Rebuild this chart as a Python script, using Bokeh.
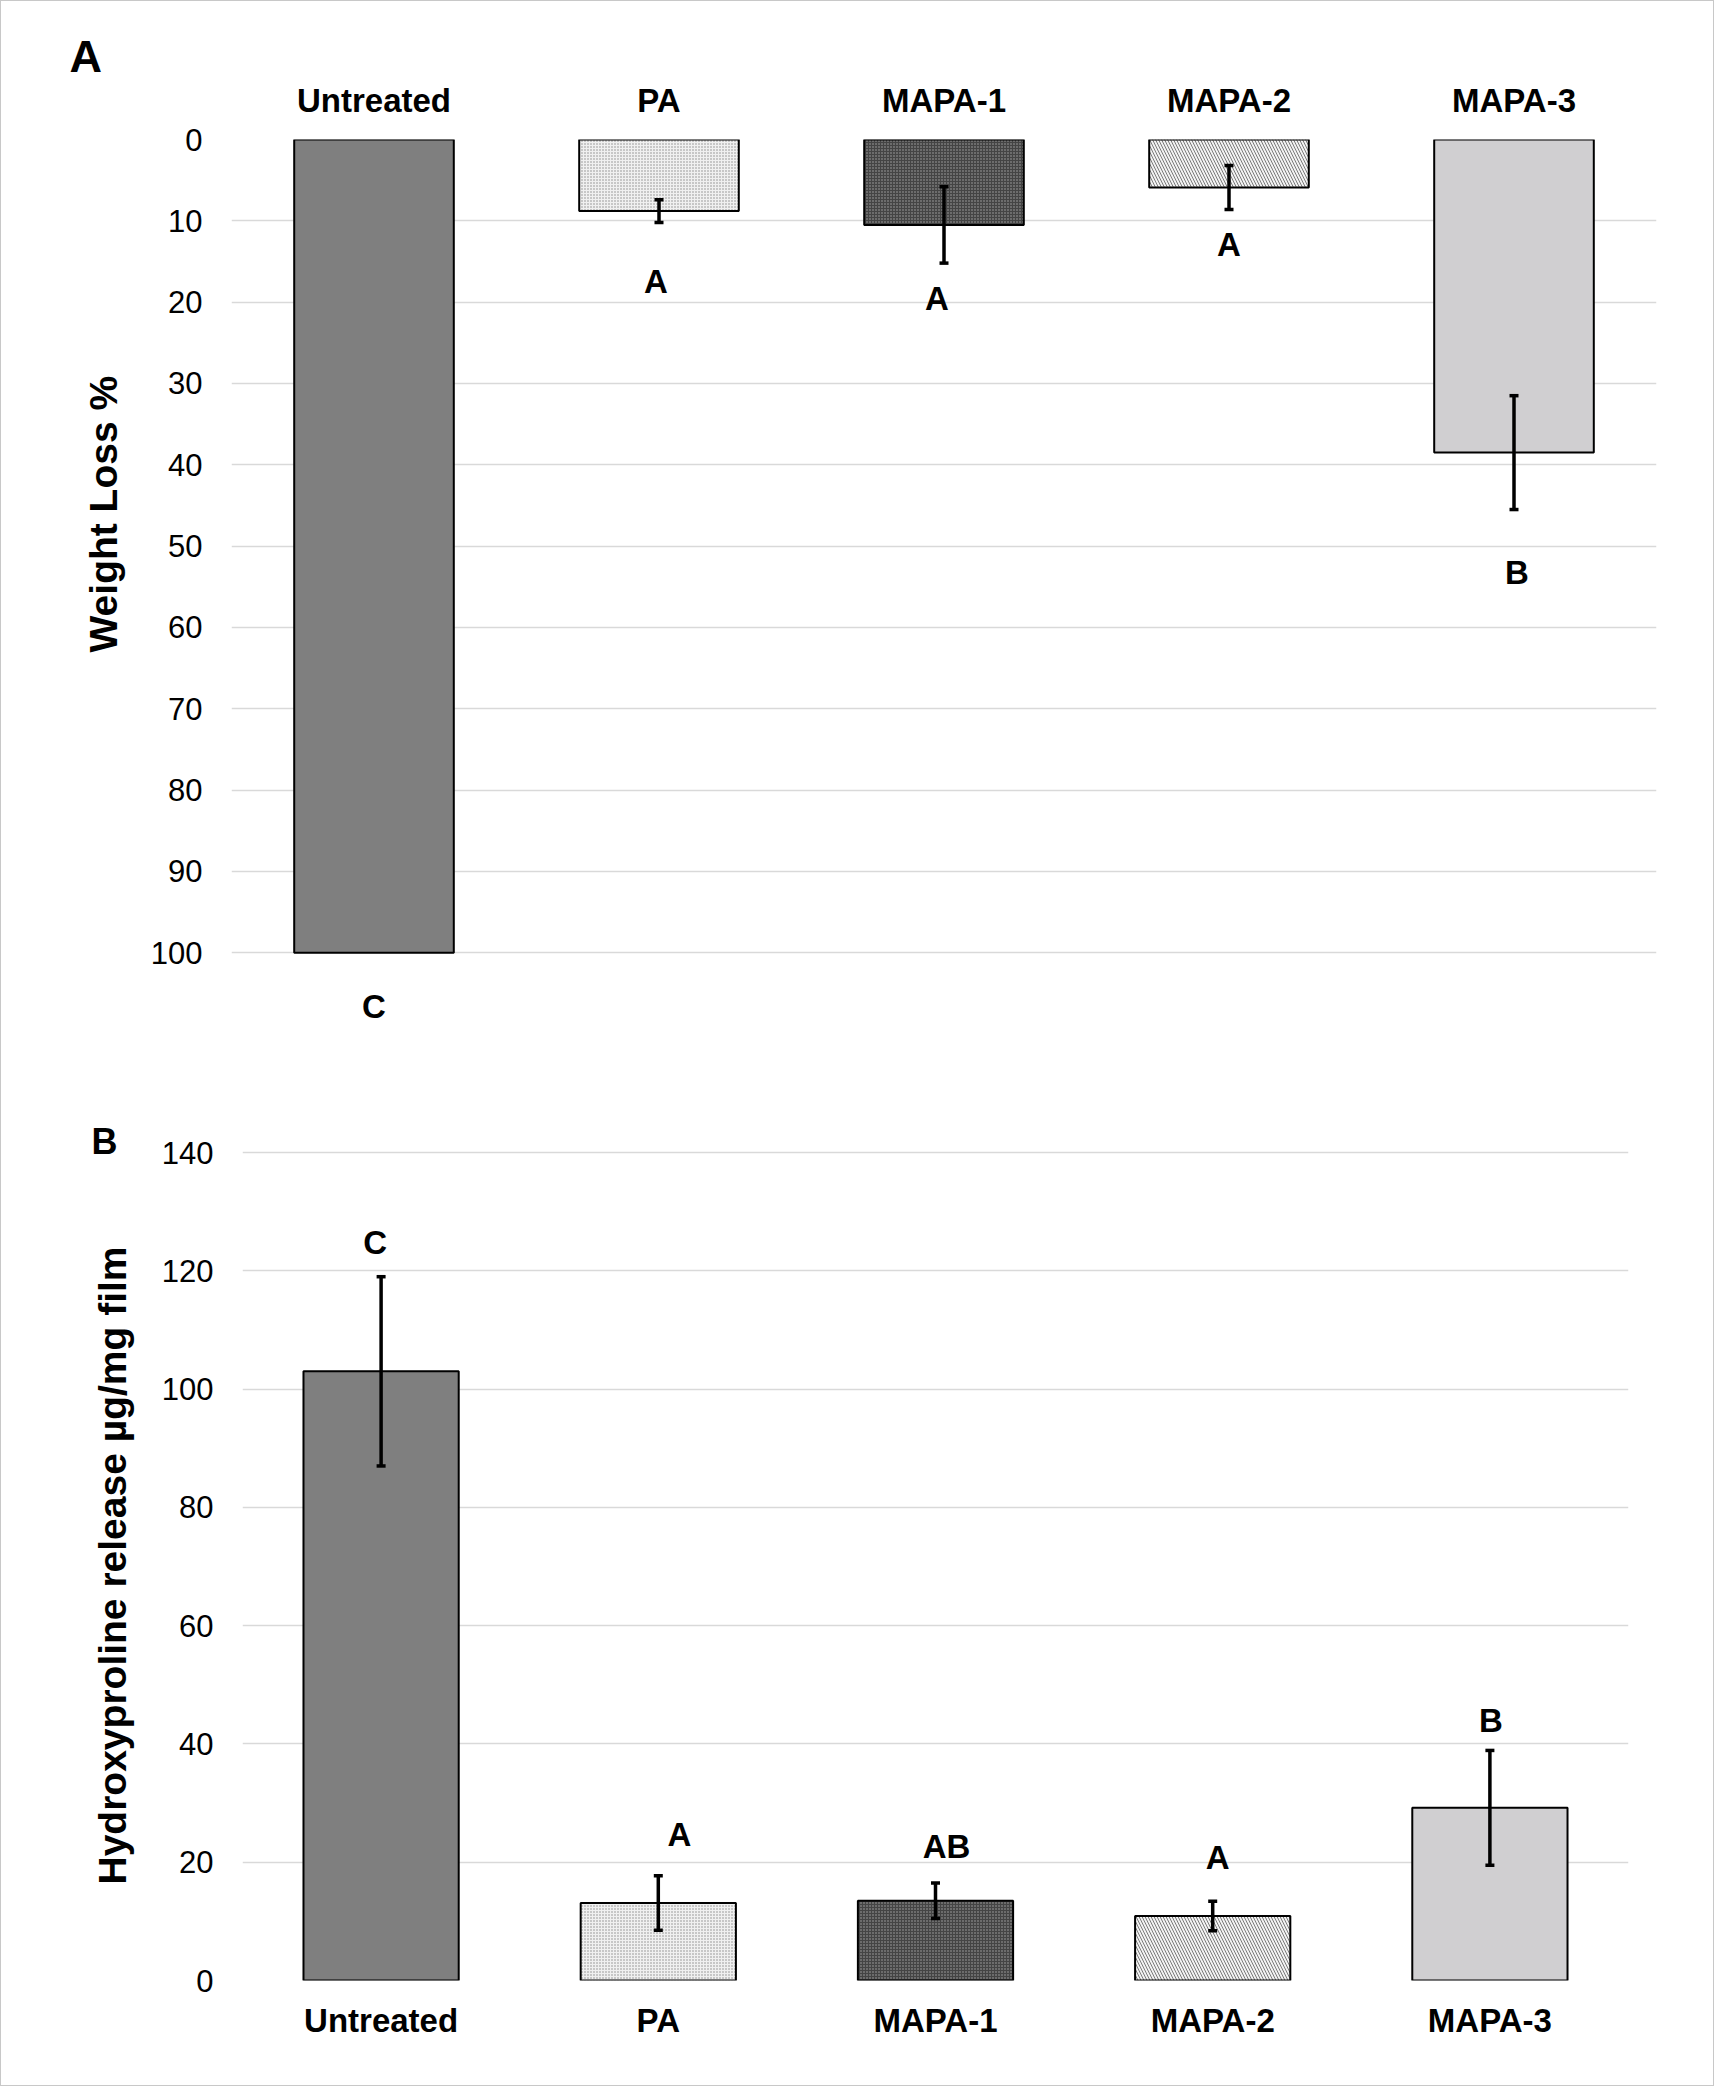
from bokeh.plotting import figure
from bokeh.models import (ColumnDataSource, Whisker, TeeHead, Range1d, FixedTicker, Title)
from bokeh.layouts import column, row
from bokeh.core.properties import value
from bokeh.embed import file_html
from bokeh.resources import INLINE

# ---------------- data ----------------
categories = ["Untreated", "PA", "MAPA-1", "MAPA-2", "MAPA-3"]

weight_loss = [100.0, 8.8, 10.5, 5.9, 38.5]
weight_loss_err = [0.0, 1.4, 4.7, 2.7, 7.0]
weight_letters = ["C", "A", "A", "A", "B"]
weight_letter_pos = [106.6, 17.4, 19.6, 12.9, 53.2]

hyp_release = [103.0, 13.1, 13.5, 10.9, 29.2]
hyp_err = [16.0, 4.6, 3.0, 2.5, 9.7]
hyp_letters = ["C", "A", "AB", "A", "B"]
hyp_letter_pos = [124.8, 24.7, 22.7, 20.8, 44.0]

weight_ticks = list(range(0, 101, 10))
hyp_ticks = list(range(0, 141, 20))

panel_titles = ["A", "B"]
y_titles = ["Weight Loss %", "Hydroxyproline release µg/mg film"]

# ---------------- styles ----------------
FONT = "Liberation Sans"
fills = ["#7f7f7f", "#f0f0f0", "#444444", "#f2f2f2", "#d0cfd1"]
hatches = [None, "dot", "dot", "left_diagonal_line", None]
hatch_cols = ["#000000", "#8a8a8a", "#a8a8a8", "#7a7a7a", "#000000"]
hatch_scales = [1, 3, 3, 6, 1]
hatch_weights = [1, 1.2, 1.2, 1.0, 1]
# small horizontal nudges (px) of the significance letters
top_letter_dx = [0, -3, -7, 0, 3]
bottom_letter_dx = [-6, 21, 11, 5, 1]

W = 1712
H1, H2 = 1060, 1024


def style(p):
    p.outline_line_color = None
    p.background_fill_color = "white"
    p.border_fill_color = "white"
    p.xgrid.grid_line_color = None
    p.ygrid.grid_line_color = "#d9d9d9"
    p.ygrid.grid_line_width = 1.5
    for ax in p.xaxis + p.yaxis:
        ax.axis_line_color = None
        ax.major_tick_line_color = None
        ax.minor_tick_line_color = None
        ax.major_tick_out = 0
        ax.major_tick_in = 0
    for ax in p.xaxis:
        ax.major_label_text_font = FONT
        ax.major_label_text_font_style = "bold"
        ax.major_label_text_font_size = "33px"
        ax.major_label_text_color = "black"
        ax.major_label_standoff = 21
    for ax in p.yaxis:
        ax.major_label_text_font = FONT
        ax.major_label_text_font_size = "31px"
        ax.major_label_text_color = "black"
        ax.major_label_standoff = 29


def draw_bars(p, vals, errs, letters, letter_pos, letter_dx):
    for i, c in enumerate(categories):
        kw = dict(fill_color=fills[i], line_color="black", line_width=2)
        if hatches[i]:
            kw.update(hatch_pattern=hatches[i], hatch_color=hatch_cols[i],
                      hatch_scale=hatch_scales[i], hatch_weight=hatch_weights[i])
        p.vbar(x=[c], top=[vals[i]], bottom=[0], width=0.56, **kw)
    idx = [i for i in range(len(categories)) if errs[i] > 0]
    src = ColumnDataSource(dict(
        x=[categories[i] for i in idx],
        upper=[vals[i] + errs[i] for i in idx],
        lower=[vals[i] - errs[i] for i in idx],
    ))
    w = Whisker(base="x", upper="upper", lower="lower", source=src,
                line_width=3.5, line_color="black", level="overlay",
                upper_head=TeeHead(size=9, line_width=3.5, line_color="black"),
                lower_head=TeeHead(size=9, line_width=3.5, line_color="black"))
    p.add_layout(w)
    lsrc = ColumnDataSource(dict(x=categories, y=letter_pos, t=letters, dx=letter_dx))
    p.text(x="x", y="y", text="t", x_offset="dx", source=lsrc, text_font=value(FONT),
           text_font_style="bold", text_font_size="33px", text_color="black",
           text_align="center", text_baseline="middle")


def ytitle(text, offset, standoff):
    return Title(text=text, align="left", offset=offset, vertical_align="middle",
                 standoff=standoff, text_font=FONT, text_font_style="bold",
                 text_font_size="39px", text_color="black")


def panel_letter(text, offset, size, standoff):
    return Title(text=text, align="left", offset=offset, standoff=standoff,
                 text_font=FONT, text_font_style="bold", text_font_size=size,
                 text_color="black")


# ---------------- panel A ----------------
p1 = figure(width=W, height=H1, x_range=categories, title=None,
            y_range=Range1d(113.0, 0), x_axis_location="above",
            output_backend="svg", toolbar_location=None,
            min_border_left=230, min_border_right=57,
            min_border_top=138, min_border_bottom=3)
p1.yaxis.ticker = FixedTicker(ticks=weight_ticks)
style(p1)
draw_bars(p1, weight_loss, weight_loss_err, weight_letters, weight_letter_pos, top_letter_dx)
p1.add_layout(ytitle(y_titles[0], 406, 44), "left")
p1.add_layout(panel_letter(panel_titles[0], -162, "45px", -6), "above")

# ---------------- panel B ----------------
p2 = figure(width=W, height=H2, x_range=categories, title=None,
            y_range=Range1d(0, 140.34),
            output_backend="svg", toolbar_location=None,
            min_border_left=241, min_border_right=85,
            min_border_top=89, min_border_bottom=105)
p2.yaxis.ticker = FixedTicker(ticks=hyp_ticks)
style(p2)
draw_bars(p2, hyp_release, hyp_err, hyp_letters, hyp_letter_pos, bottom_letter_dx)
p2.add_layout(ytitle(y_titles[1], 96, 47), "left")
p2.add_layout(panel_letter(panel_titles[1], -151, "36px", -22), "above")

layout = column(row(p1), row(p2), styles={"border": "1px solid #c8c8c8"})

open("out.html", "w").write(file_html(layout, INLINE))
